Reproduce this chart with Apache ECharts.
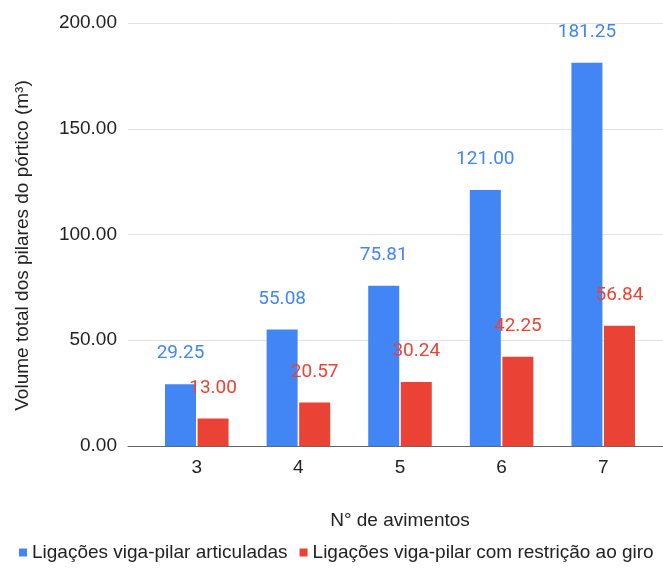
<!DOCTYPE html>
<html>
<head>
<meta charset="utf-8">
<script src="https://cdn.jsdelivr.net/npm/echarts@6/dist/echarts.min.js"></script>
<style>
  html, body { margin: 0; padding: 0; background: #fff; }
  #chart { width: 663px; height: 572px; }
</style>
</head>
<body>
<div id="chart"></div>
<script>
// Number of spans (x categories)
const categories = ['3', '4', '5', '6', '7'];
// Total column volume per series (m³)
const articuladas = [29.25, 55.08, 75.81, 121.00, 181.25];
const comRestricao = [13.00, 20.57, 30.24, 42.25, 56.84];
const seriesNames = ['Ligações viga-pilar articuladas', 'Ligações viga-pilar com restrição ao giro'];
const yTicks = { min: 0, max: 200, interval: 50 };

const chart = echarts.init(document.getElementById('chart'));
const gridTop = 23, gridBottom = 126;
const sans = 'Liberation Sans, Arial, sans-serif';
const labelFont = 'Roboto, sans-serif';

chart.setOption({
  animation: false,
  legend: {
    bottom: 5,
    left: 14,
    icon: 'rect',
    itemWidth: 8,
    itemHeight: 8,
    itemGap: 12,
    itemStyle: { borderWidth: 0 },
    textStyle: { fontFamily: sans, fontSize: 19, color: '#222' },
    data: seriesNames
  },
  grid: [
    // background grid: y ticks, gridlines and baseline across full width
    { left: 128, right: 0, top: gridTop, bottom: gridBottom },
    // plotting band for the bars
    { left: 146, right: 9, top: gridTop, bottom: gridBottom }
  ],
  xAxis: [
    {
      gridIndex: 0, type: 'category', data: categories,
      axisLine: { show: true, lineStyle: { color: '#666', width: 1 } },
      axisTick: { show: false }, axisLabel: { show: false }
    },
    {
      gridIndex: 1, type: 'category', data: categories,
      name: 'N° de avimentos', nameLocation: 'middle', nameGap: 65,
      nameTextStyle: { fontFamily: sans, fontSize: 19, color: '#222' },
      axisLine: { show: false }, axisTick: { show: false },
      axisLabel: { fontFamily: sans, fontSize: 19, color: '#222', margin: 12 }
    }
  ],
  yAxis: [
    {
      gridIndex: 0, type: 'value', min: yTicks.min, max: yTicks.max, interval: yTicks.interval,
      name: 'Volume total dos pilares do pórtico (m³)', nameLocation: 'middle', nameGap: 96,
      nameTextStyle: { fontFamily: sans, fontSize: 19, color: '#222', padding: [0, 22, 0, 0] },
      axisLine: { show: false }, axisTick: { show: false },
      axisLabel: { fontFamily: sans, fontSize: 19, color: '#222', margin: 11,
        formatter: v => v.toFixed(2) },
      splitLine: { lineStyle: { color: '#e3e3e3', width: 1 } }
    },
    {
      gridIndex: 1, type: 'value', min: yTicks.min, max: yTicks.max, interval: yTicks.interval,
      axisLine: { show: false }, axisTick: { show: false }, axisLabel: { show: false },
      splitLine: { show: false }
    }
  ],
  series: [
    {
      name: seriesNames[0], type: 'bar', xAxisIndex: 1, yAxisIndex: 1,
      data: articuladas, barWidth: 31, barGap: '5%',
      itemStyle: { color: '#4285F4' },
      label: { show: true, position: 'top', distance: 21, fontFamily: labelFont, fontSize: 19,
        color: '#4285F4', formatter: p => p.value.toFixed(2) }
    },
    {
      name: seriesNames[1], type: 'bar', xAxisIndex: 1, yAxisIndex: 1,
      data: comRestricao, barWidth: 31,
      itemStyle: { color: '#EA4335' },
      label: { show: true, position: 'top', distance: 21, fontFamily: labelFont, fontSize: 19,
        color: '#EA4335', formatter: p => p.value.toFixed(2) }
    }
  ]
});
</script>
</body>
</html>
